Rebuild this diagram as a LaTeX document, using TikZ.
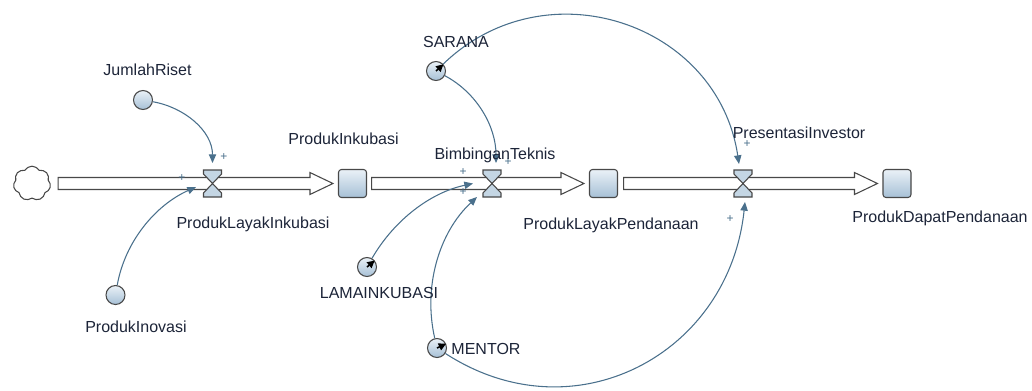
\documentclass[tikz,border=0pt]{standalone}
\usepackage{fontspec}
\setmainfont{Liberation Sans}
\usetikzlibrary{arrows.meta,shapes.symbols}
\definecolor{conncol}{RGB}{74,112,140}
\definecolor{edgecol}{RGB}{72,72,72}
\definecolor{ftop}{RGB}{234,241,247}
\definecolor{fbot}{RGB}{166,192,214}
\definecolor{txtcol}{RGB}{28,36,56}
\definecolor{valvecol}{RGB}{196,214,228}
\newcommand\flowpipe[3]{%
  \draw[pipe] ([shift={(#3,6)}]#1.east) -- ([shift={(-28,6)}]#2.west)
    -- ([shift={(-28,11)}]#2.west) -- ([shift={(-5,0)}]#2.west)
    -- ([shift={(-28,-11)}]#2.west) -- ([shift={(-28,-6)}]#2.west)
    -- ([shift={(#3,-6)}]#1.east) -- cycle;}
\newcommand\hourglass[1]{%
  \draw[hg] (#1.north west) -- (#1.north east) -- ([yshift=-3]#1.north east)
    -- (#1.center) -- ([yshift=3]#1.south east) -- (#1.south east)
    -- (#1.south west) -- ([yshift=3]#1.south west) -- (#1.center)
    -- ([yshift=-3]#1.north west) -- cycle;}
\begin{document}
\begin{tikzpicture}[x=0.75pt,y=0.75pt,
  font=\fontsize{12}{14}\selectfont,
  aux/.style={circle, draw=edgecol, line width=0.8pt, top color=ftop, bottom color=fbot, minimum size=14.25pt, inner sep=0pt},
  stock/.style={rectangle, rounded corners=2.25pt, draw=edgecol, line width=0.8pt, top color=ftop, bottom color=fbot, minimum size=21pt, inner sep=0pt},
  valve/.style={rectangle, minimum width=13.5pt, minimum height=20.25pt, inner sep=0pt, outer sep=0pt},
  cloudsh/.style={cloud, cloud puffs=7, cloud puff arc=120, aspect=1.05, draw=edgecol, fill=white, line width=0.8pt, minimum width=28pt, minimum height=26pt, inner sep=0pt},
  pipe/.style={draw=edgecol, fill=white, line width=0.8pt, line join=miter},
  hg/.style={draw=edgecol, fill=valvecol, line width=0.8pt},
  conn/.style={draw=conncol, line width=0.8pt, -{Triangle[length=6.5pt,width=5.5pt]}},
  ghost/.style={black, line width=1.2pt, -{Triangle[length=5.5pt,width=5.5pt]}},
  lbl/.style={text=txtcol, anchor=base, inner sep=0pt},
  pl/.style={text=conncol, font=\fontsize{9}{9}\selectfont, inner sep=0pt}]
\useasboundingbox (0,0) rectangle (1032,-390);

% nodes
\node[cloudsh] (cl) at (32,-183.5) {};
\node[stock] (s1) at (352.5,-183.5) {};
\node[stock] (s2) at (603.5,-183.5) {};
\node[stock] (s3) at (897,-183.5) {};
\node[valve] (v1) at (212.5,-183.5) {};
\node[valve] (v2) at (492,-183.5) {};
\node[valve] (v3) at (743,-183.5) {};
\node[aux] (jr) at (143,-100) {};
\node[aux] (pi) at (115.5,-295) {};
\node[aux] (sar) at (436,-71) {};
\node[aux] (lama) at (367,-267) {};
\node[aux] (men) at (437,-348) {};

% ghost marks
\draw[ghost] (sar.center) -- (sar.42);
\draw[ghost] (lama.center) -- (lama.40);
\draw[ghost] (men.center) -- (men.25);

% pipes
\flowpipe{cl}{s1}{7.5}
\flowpipe{s1}{s2}{4.5}
\flowpipe{s2}{s3}{5.5}

% valves
\hourglass{v1}
\hourglass{v2}
\hourglass{v3}

% connectors
\draw[conn] (jr) to[out=-10,in=90,looseness=0.96] ([shift={(0,7)}]v1.north);
\draw[conn] (pi) to[out=80,in=204,looseness=0.9] ([shift={(-16.5,-3.5)}]v1.center);
\draw[conn] (sar) to[out=-28,in=90,looseness=0.92] ([shift={(4,7)}]v2.north);
\draw[conn] (lama) to[out=60,in=192,looseness=0.89] ([shift={(-19,0)}]v2.center);
\draw[conn] (men) to[out=103,in=223,looseness=0.91] ([shift={(-15,0)}]v2.south);
\draw[conn] (men) to[out=-33,in=264,looseness=1.17] ([shift={(2,-5)}]v3.south);
\draw[conn] (sar) to[out=44,in=98.5,looseness=1.17] ([shift={(-4,6)}]v3.north);

% polarity signs
\node[pl] (p1) at (224,-157) {+};
\node[pl] (p2) at (182,-178) {+};
\node[pl] (p3) at (463,-172) {+};
\node[pl] (p4) at (463,-192) {+};
\node[pl] (p5) at (508,-162) {+};
\node[pl] (p6) at (747,-144) {+};
\node[pl] (p7) at (730,-219) {+};

% labels
\node[lbl] (tjr) at (147.5,-75) {JumlahRiset};
\node[lbl] (tpi) at (136,-332) {ProdukInovasi};
\node[lbl] (tpli) at (253,-228) {ProdukLayakInkubasi};
\node[lbl] (tpik) at (343.5,-144) {ProdukInkubasi};
\node[lbl] (tbt) at (495,-159) {BimbinganTeknis};
\node[lbl] (tplp) at (611,-229) {ProdukLayakPendanaan};
\node[lbl] (tpri) at (799,-138) {PresentasiInvestor};
\node[lbl] (tpdp) at (940,-222) {ProdukDapatPendanaan};
\node[lbl] (tsar) at (456,-47) {SARANA};
\node[lbl] (tlama) at (379,-298) {LAMAINKUBASI};
\node[lbl] (tmen) at (486,-354) {MENTOR};
\end{tikzpicture}
\end{document}
